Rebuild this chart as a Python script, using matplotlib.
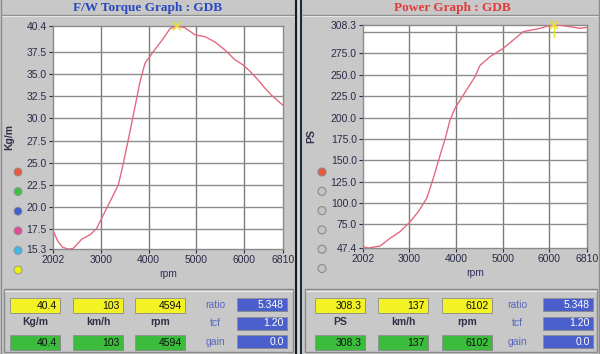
import matplotlib.pyplot as plt
from matplotlib.patches import Rectangle, Circle

# torque curve (rpm, kgf*m)
tq_rpm = [2002, 2100, 2200, 2316, 2420, 2500, 2602, 2775, 2915, 2985, 3158, 3367, 3472,
          3576, 3716, 3820, 3925, 4098, 4308, 4447, 4594, 4760, 4970, 5180, 5388, 5597,
          5806, 5980, 6120, 6260, 6433, 6572, 6781, 6810]
tq_val = [17.4, 16.2, 15.5, 15.3, 15.35, 15.8, 16.4, 16.9, 17.6, 18.4, 20.25, 22.5, 24.95,
          27.6, 31.3, 34.1, 36.2, 37.5, 39.0, 40.1, 40.4, 40.2, 39.4, 39.2, 38.6, 37.7,
          36.6, 36.0, 35.3, 34.5, 33.4, 32.6, 31.6, 31.5]

# power curve (rpm, PS)
pw_rpm = [2002, 2116, 2367, 2582, 2796, 2996, 3189, 3369, 3477, 3584, 3691, 3762, 3870,
          3977, 4155, 4406, 4513, 4728, 5013, 5228, 5443, 5801, 6016, 6102, 6230, 6445,
          6660, 6810]
pw_val = [48.9, 47.4, 49.7, 58.7, 66.5, 77.0, 89.9, 105.5, 123.1, 142.5, 162.1, 174.5, 197.2,
          210.8, 226.4, 247.8, 261.0, 271.2, 281.0, 290.8, 300.5, 304.4, 307.8, 308.3, 308.0,
          306.3, 304.4, 305.5]

rpm_ticks = [2002, 3000, 4000, 5000, 6000, 6810]
tq_ticks = [15.3, 17.5, 20.0, 22.5, 25.0, 27.5, 30.0, 32.5, 35.0, 37.5, 40.4]
pw_ticks = [47.4, 75.0, 100.0, 125.0, 150.0, 175.0, 200.0, 225.0, 250.0, 275.0, 308.3]
pw_grid = [75, 100, 125, 150, 175, 200, 225, 250, 275, 300]

# readouts
left_top = ["40.4", "103", "4594"]
left_units = ["Kg/m", "km/h", "rpm"]
left_bottom = ["40.4", "103", "4594"]
right_top = ["308.3", "137", "6102"]
right_units = ["PS", "km/h", "rpm"]
right_bottom = ["308.3", "137", "6102"]
side_names = ["ratio", "tcf", "gain"]
side_vals = ["5.348", "1.20", "0.0"]
peak_tq = (4594, 40.4)
peak_pw = (6102, 308.3)

W, H = 600, 354
bg = "#c8c8c8"
curve = "#e26a80"
tickc = "#2a2a4a"

fig = plt.figure(figsize=(6, 3.54), dpi=100)
fig.patch.set_facecolor(bg)

# overlay in pixel coordinates for the window decoration
ov = fig.add_axes([0, 0, 1, 1], zorder=0)
ov.set_xlim(0, W)
ov.set_ylim(H, 0)
ov.axis("off")

# title strip lines and frames
for x0, x1 in [(2, 294), (303, 598)]:
    ov.plot([x0, x1], [15, 15], color="#8c8c8c", lw=1)
    ov.plot([x0, x1], [16, 16], color="#e4e4e4", lw=0.8)
ov.plot([296, 296], [0, H], color="#1c1c1c", lw=1.5)
ov.plot([298.5, 298.5], [0, H], color="#d8d8d8", lw=1.5)
ov.plot([301, 301], [0, H], color="#163040", lw=1.5)
ov.plot([1, 1], [0, H], color="#8c8c8c", lw=1)
ov.plot([599, 599], [0, H], color="#8c8c8c", lw=1)

ov.text(148, 7.5, "F/W Torque Graph : GDB", color="#2848c0", fontsize=9.5,
        family="Liberation Serif", weight="bold", ha="center", va="center")
ov.text(452, 7.5, "Power Graph : GDB", color="#e03a3a", fontsize=9.5,
        family="Liberation Serif", weight="bold", ha="center", va="center")

# bottom readout panels
for x0, x1 in [(4, 293), (305, 597)]:
    ov.add_patch(Rectangle((x0, 289), x1 - x0, 63, fill=False, ec="#8a8a8a", lw=1))
    ov.plot([x0 + 1, x1 - 1], [290.5, 290.5], color="#ececec", lw=0.8)


def box(x, y, w, h, fc, txt, tc):
    ov.add_patch(Rectangle((x + 1, y + 1), w, h, fc="#707070", ec="none"))
    ov.add_patch(Rectangle((x, y), w, h, fc=fc, ec="#909090", lw=0.6))
    ov.text(x + w - 3, y + h / 2 + 0.5, txt, color=tc, fontsize=7.5,
            family="Liberation Sans", ha="right", va="center")


def readout(xs, xr, xb, top, units, bottom):
    for x, t, u, b in zip(xs, top, units, bottom):
        box(x, 298, 50, 15, "#f2f224", t, "#101010")
        ov.text(x + 25, 322, u, color="#303048", fontsize=7.5, family="Liberation Sans",
                weight="bold", ha="center", va="center")
        box(x, 335, 50, 15, "#3cbc3c", b, "#101010")
    for i, (n, v) in enumerate(zip(side_names, side_vals)):
        y = 298 + i * 18.5
        ov.text(xr, y + 7, n, color="#5a68c0", fontsize=7.5, family="Liberation Sans",
                ha="center", va="center")
        box(xb, y, 50, 13, "#4a5ecc", v, "white")


readout([10, 73, 135], 215, 237, left_top, left_units, left_bottom)
readout([315, 378, 442], 517, 543, right_top, right_units, right_bottom)

# channel selector dots
left_cols = ["#e8583a", "#3cc048", "#4060d0", "#e04c98", "#40b8e8", "#f0f010"]
for i, c in enumerate(left_cols):
    ov.add_patch(Circle((18, 172 + i * 19.6), 4, fc=c, ec="#909090", lw=0.6))
for i in range(6):
    c = "#e8583a" if i == 0 else "#c4c4c4"
    ov.add_patch(Circle((322, 172 + i * 19.3), 4, fc=c, ec="#8a8a8a", lw=0.8))


def make_axes(px0, px1, py0, py1):
    return fig.add_axes([px0 / W, 1 - py1 / H, (px1 - px0) / W, (py1 - py0) / H], zorder=2)


def style(ax, yticks, ylab, grid_y):
    ax.set_facecolor("white")
    ax.set_xlim(rpm_ticks[0], rpm_ticks[-1])
    ax.set_ylim(yticks[0], yticks[-1])
    ax.set_xticks(rpm_ticks)
    ax.set_xticklabels([str(t) for t in rpm_ticks])
    ax.set_yticks(yticks)
    ax.set_yticklabels(["%.1f" % t for t in yticks])
    for s in ax.spines.values():
        s.set_color("#8a8a8a")
        s.set_linewidth(1)
    for g in rpm_ticks[1:-1]:
        ax.axvline(g, color="#7c7c7c", lw=1, zorder=1)
    for g in grid_y:
        ax.axhline(g, color="#8c8c8c", lw=1, zorder=1)
    ax.tick_params(direction="out", length=3, width=0.8, color=tickc, labelcolor=tickc,
                   labelsize=7.5, pad=1.5)
    for lab in ax.get_xticklabels() + ax.get_yticklabels():
        lab.set_family("Liberation Sans")
    ax.set_xlabel("rpm", fontsize=7.5, color="#303060", family="Liberation Sans", labelpad=3)
    ax.set_ylabel(ylab, fontsize=7.5, color="#303048", family="Liberation Sans",
                  weight="bold", labelpad=2)


ax1 = make_axes(53, 283, 26, 249)
style(ax1, tq_ticks, "Kg/m", tq_ticks[1:-1])
ax1.plot(tq_rpm, tq_val, color=curve, lw=1, zorder=3)
ax1.plot([peak_tq[0]], [peak_tq[1]], marker="x", ms=6, color="#e8e030", mew=1.2,
         zorder=4, clip_on=False)
ax1.yaxis.set_label_coords(-0.17, 0.5)

ax2 = make_axes(363, 587, 25, 248)
style(ax2, pw_ticks, "PS", pw_grid)
ax2.plot(pw_rpm, pw_val, color=curve, lw=1, zorder=3)
ax2.plot([peak_pw[0]], [peak_pw[1]], marker="x", ms=6, color="#e8e030", mew=1.2,
         zorder=4, clip_on=False)
ax2.plot([peak_pw[0], peak_pw[0]], [peak_pw[1], peak_pw[1] - 14], color="#e8e030",
         lw=1, zorder=4)
ax2.yaxis.set_label_coords(-0.21, 0.5)

fig.savefig("out.png", dpi=100, facecolor=fig.get_facecolor())
